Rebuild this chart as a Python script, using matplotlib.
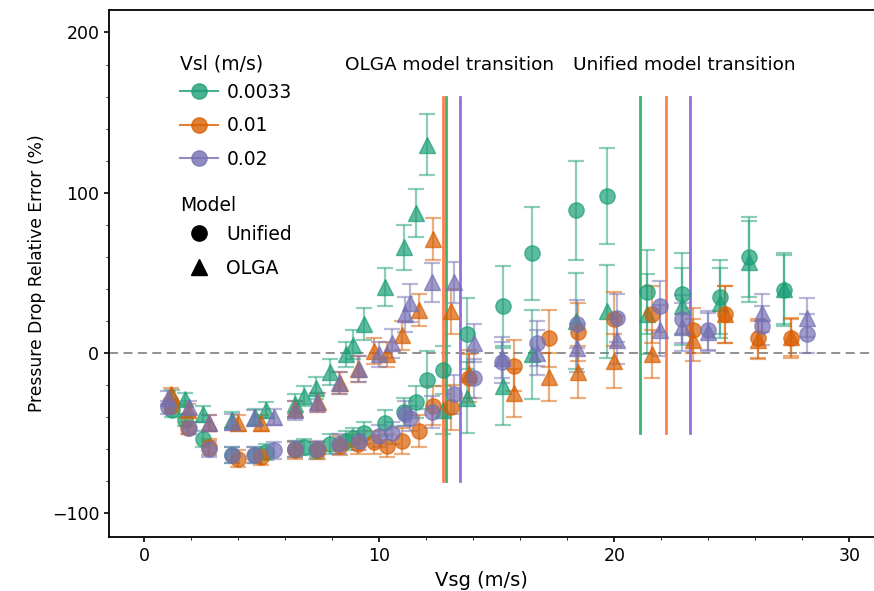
import matplotlib
matplotlib.use("Agg")
import matplotlib.pyplot as plt
from matplotlib.lines import Line2D
from matplotlib.ticker import AutoMinorLocator

# Vsl = 0.0033 m/s
vsg_g = [1.2, 1.75, 2.5, 3.75, 4.7, 5.2, 6.4, 6.8, 7.3, 7.9, 8.6, 8.9, 9.35, 10.25,
         11.05, 11.55, 12.05, 12.7, 13.75, 15.25, 16.5, 18.35, 19.7, 21.4, 22.9, 24.5, 25.75, 27.2]
uni_g = [-36, -42, -54, -64, -64, -62, -60, -59, -61, -57, -55, -53, -50, -44,
         -37, -31, -17, -11, 12, 29, 62, 89, 98, 38, 37, 35, 60, 39]
uni_g_err = [4, 4, 5, 5, 5, 5, 5, 5, 5, 6, 6, 6, 7, 8, 9, 10, 18, 15, 22, 25, 29, 31, 30, 26, 25, 23, 25, 22]
olga_g = [-27, -29, -38, -42, -40, -36, -32, -27, -22, -12, -1, 5, 18, 41,
          66, 87, 130, -36, -28, -21, -1, 20, 26, 24, 29, 31, 57, 40]
olga_g_err = [4, 4, 5, 5, 5, 5, 6, 6, 7, 8, 8, 9, 10, 12, 14, 15, 19, 15, 22, 24, 28, 30, 29, 25, 24, 22, 25, 22]

# Vsl = 0.01 m/s
vsg_o = [1.15, 1.85, 2.75, 4.0, 4.95, 6.4, 7.4, 8.35, 9.1, 9.77, 10.33, 10.95, 11.7,
         12.3, 13.05, 13.83, 15.75, 17.24, 18.44, 20.0, 21.6, 23.35, 24.7, 26.1, 27.5]
uni_o = [-33, -47, -59, -66, -65, -61, -61, -58, -57, -56, -58, -55, -49,
         -33, -34, -16, -8, 9, 13, 21, 24, 14, 24, 9, 9]
uni_o_err = [4, 4, 5, 5, 5, 5, 5, 6, 6, 7, 7, 8, 10, 12, 14, 15, 16, 18, 18, 17, 18, 14, 18, 12, 12]
olga_o = [-26, -36, -44, -44, -44, -35, -31, -19, -10, 1, -1, 11, 27,
          71, 26, -13, -25, -15, -12, -5, -1, 8, 24, 8, 10]
olga_o_err = [4, 4, 5, 5, 5, 5, 6, 7, 8, 8, 8, 9, 10, 13, 14, 15, 15, 15, 16, 17, 15, 13, 18, 12, 12]

# Vsl = 0.02 m/s
vsg_p = [1.0, 1.9, 2.75, 3.75, 4.65, 5.5, 6.4, 7.35, 8.3, 9.13, 10.0, 10.55, 11.1,
         11.3, 12.25, 13.2, 14.04, 15.24, 16.73, 18.4, 20.1, 21.94, 22.88, 24.0, 26.3, 28.2]
uni_p = [-34, -47, -60, -64, -64, -61, -60, -60, -57, -55, -52, -50, -38,
         -41, -37, -26, -16, -6, 6, 18, 22, 29, 21, 14, 17, 12]
uni_p_err = [4, 4, 5, 5, 5, 5, 5, 5, 6, 6, 7, 7, 8, 8, 10, 12, 12, 13, 14, 15, 15, 16, 15, 12, 12, 12]
olga_p = [-28, -34, -44, -43, -41, -40, -36, -31, -19, -10, -1, 6, 24,
          31, 44, 44, 6, -3, 0, 3, 8, 14, 16, 13, 25, 22]
olga_p_err = [4, 4, 5, 5, 5, 5, 6, 6, 7, 8, 8, 9, 11, 12, 12, 13, 12, 13, 14, 15, 15, 16, 15, 12, 12, 12]

vsl_labels = ["0.0033", "0.01", "0.02"]
colors = ["#1b9e77", "#d95f02", "#7570b3"]
line_colors = ["#3cb371", "#ff7f50", "#9370db"]

# model transition velocities (m/s)
olga_trans = [12.83, 12.7, 13.45]
unified_trans = [21.1, 22.2, 23.2]

series = [
    (vsg_g, uni_g, uni_g_err, olga_g, olga_g_err),
    (vsg_o, uni_o, uni_o_err, olga_o, olga_o_err),
    (vsg_p, uni_p, uni_p_err, olga_p, olga_p_err),
]

fig = plt.figure(figsize=(8.74, 5.91), dpi=100)
ax = fig.add_axes([0.1247, 0.0914, 0.878, 0.8916])

for (vsg, uni, uerr, olga, oerr), c in zip(series, colors):
    for y, e, m in [(uni, uerr, "o"), (olga, oerr, "^")]:
        _, caps, bars = ax.errorbar(vsg, y, yerr=e, fmt=m, color=c, ms=11, alpha=0.7,
                                    ecolor=c, elinewidth=1.6, capsize=6, capthick=1.6)
        for a in list(caps) + list(bars):
            a.set_alpha(0.5)

for x, c in zip(olga_trans, line_colors):
    ax.plot([x, x], [-80, 160], color=c, lw=2)
for x, c in zip(unified_trans, line_colors):
    ax.plot([x, x], [-50, 160], color=c, lw=2)

ax.axhline(0, color="#888888", ls="--", lw=1.3, dashes=(5, 3), zorder=0)

ax.text(13.0, 180, "OLGA model transition", ha="center", va="center", fontsize=13.3)
ax.text(23.0, 180, "Unified model transition", ha="center", va="center", fontsize=13.3)

ax.set_xlim(-1.5, 31.15)
ax.set_ylim(-115, 214)
ax.set_xticks([0, 10, 20, 30])
ax.set_yticks([-100, 0, 100, 200])
ax.xaxis.set_minor_locator(AutoMinorLocator(5))
ax.yaxis.set_minor_locator(AutoMinorLocator(5))
ax.tick_params(labelsize=12.5, width=1.2)
ax.tick_params(which="minor", length=2.5)
ax.set_xlabel("Vsg (m/s)", fontsize=14)
ax.xaxis.set_label_coords(0.486, -0.065)
ax.set_ylabel("Pressure Drop Relative Error (%)", fontsize=12.3)
for s in ax.spines.values():
    s.set_linewidth(1.3)

# legend: liquid velocity
h1 = [Line2D([], [], color=c, marker="o", ms=11, alpha=0.8) for c in colors]
leg1 = ax.legend(h1, vsl_labels, loc="upper left", bbox_to_anchor=(0.093, 0.862),
                 frameon=False, fontsize=13.5, handlelength=2.0, handletextpad=0.45,
                 labelspacing=0.78, borderpad=0, borderaxespad=0)
ax.add_artist(leg1)
ax.text(0.093, 0.898, "Vsl (m/s)", transform=ax.transAxes, fontsize=13.5, va="center")

# legend: model
h2 = [Line2D([], [], color="black", marker=m, ls="none", ms=11) for m in ["o", "^"]]
ax.legend(h2, ["Unified", "OLGA"], loc="upper left", bbox_to_anchor=(0.093, 0.592),
          frameon=False, fontsize=13.5, handlelength=2.0, handletextpad=0.45,
          labelspacing=0.78, borderpad=0, borderaxespad=0)
ax.text(0.093, 0.63, "Model", transform=ax.transAxes, fontsize=13.5, va="center")

fig.savefig("out.png", dpi=100)
